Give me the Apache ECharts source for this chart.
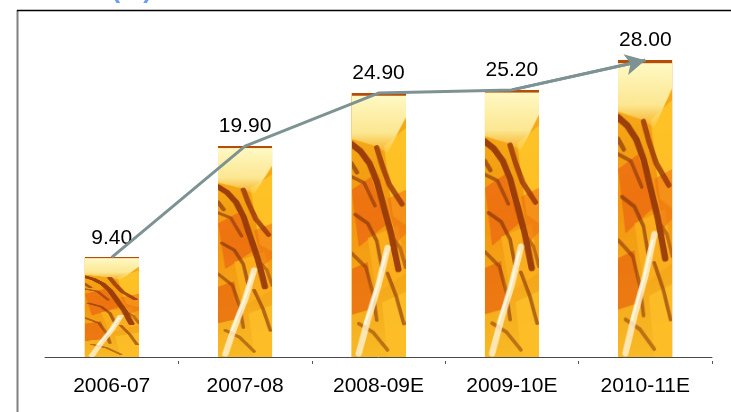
<!DOCTYPE html>
<html>
<head>
<meta charset="utf-8">
<script src="https://cdn.jsdelivr.net/npm/echarts@6/dist/echarts.min.js"></script>
<style>
  html, body { margin: 0; padding: 0; background: #fff; }
  #chart { width: 731px; height: 412px; }
</style>
</head>
<body>
<div id="chart"></div>
<script>
// Fiscal years and values (E = estimate)
const years = ['2006-07', '2007-08', '2008-09E', '2009-10E', '2010-11E'];
const values = [9.40, 19.90, 24.90, 25.20, 28.00];
const headingText = 'ROE (%)';

// Amber crystal texture painted once and stretched over every bar
function makeTexture() {
  const W = 60, H = 300;
  const c = document.createElement('canvas');
  c.width = W; c.height = H;
  const g = c.getContext('2d');
  const base = g.createLinearGradient(0, 0, W, H);
  base.addColorStop(0, '#f7b41c');
  base.addColorStop(0.45, '#f3950e');
  base.addColorStop(1, '#f8bc26');
  g.fillStyle = base;
  g.fillRect(0, 0, W, H);

  function blob(pts, color) {
    g.fillStyle = color;
    g.beginPath();
    g.moveTo(pts[0][0], pts[0][1]);
    for (let i = 1; i < pts.length; i++) g.lineTo(pts[i][0], pts[i][1]);
    g.closePath();
    g.fill();
  }
  function streak(pts, color, w) {
    g.strokeStyle = color;
    g.lineWidth = w;
    g.lineCap = 'round';
    g.lineJoin = 'round';
    g.beginPath();
    g.moveTo(pts[0][0], pts[0][1]);
    for (let i = 1; i < pts.length; i++) g.lineTo(pts[i][0], pts[i][1]);
    g.stroke();
  }
  // warm orange / yellow facets
  blob([[36, 60], [60, 40], [60, 150], [46, 140]], 'rgba(255,196,40,0.9)');
  blob([[0, 110], [22, 95], [38, 150], [8, 175]], 'rgba(236,104,18,0.75)');
  blob([[18, 165], [52, 150], [60, 205], [28, 228]], 'rgba(252,176,30,0.85)');
  blob([[0, 200], [18, 192], [24, 245], [0, 252]], 'rgba(232,100,14,0.7)');
  blob([[34, 238], [60, 226], [60, 300], [40, 300]], 'rgba(252,190,40,0.9)');
  blob([[40, 120], [60, 110], [60, 160], [50, 170]], 'rgba(238,112,16,0.6)');

  // pale top glare
  const glare = g.createLinearGradient(0, 0, 0, 75);
  glare.addColorStop(0, 'rgba(255,250,200,1)');
  glare.addColorStop(0.6, 'rgba(253,238,160,0.9)');
  glare.addColorStop(1, 'rgba(253,222,110,0)');
  g.fillStyle = glare;
  g.beginPath();
  g.moveTo(0, 0); g.lineTo(W, 0); g.lineTo(W, 28); g.lineTo(40, 68); g.lineTo(26, 60); g.lineTo(0, 52); g.closePath();
  g.fill();

  // brown diagonal bands
  streak([[0, 58], [10, 66], [20, 80], [28, 100], [36, 130], [44, 160], [52, 200]], 'rgba(140,45,8,0.85)', 7);
  streak([[28, 62], [34, 82], [42, 104], [56, 126]], 'rgba(150,50,10,0.8)', 6);
  streak([[0, 95], [14, 102], [26, 128]], 'rgba(140,55,12,0.65)', 4);
  streak([[4, 138], [18, 148], [28, 168], [34, 200]], 'rgba(130,50,10,0.65)', 4);
  streak([[0, 182], [16, 198], [24, 228], [28, 258]], 'rgba(140,55,10,0.6)', 4);
  streak([[40, 205], [50, 232], [58, 262]], 'rgba(140,55,10,0.65)', 4);
  streak([[8, 262], [24, 272], [40, 292]], 'rgba(140,55,10,0.55)', 4);
  streak([[44, 162], [54, 176], [60, 198]], 'rgba(160,65,10,0.6)', 4);
  streak([[0, 80], [6, 90]], 'rgba(120,40,8,0.6)', 5);
  // pale crystal streak in the lower left
  streak([[40, 176], [30, 218], [18, 258], [8, 296]], 'rgba(255,238,205,0.85)', 7);
  streak([[38, 182], [28, 222], [15, 262]], 'rgba(255,255,240,0.75)', 2.5);
  // dark rim along the top
  g.fillStyle = 'rgba(176,66,0,0.95)';
  g.fillRect(0, 0, W, 3);
  return c;
}
const texture = makeTexture();

const chart = echarts.init(document.getElementById('chart'), null, { renderer: 'canvas' });

const textFont = '"Liberation Sans", Arial, sans-serif';

chart.setOption({
  animation: false,
  backgroundColor: '#fff',
  grid: { left: 45, right: 19, top: 39, bottom: 55 },
  xAxis: [{
    type: 'category',
    data: years,
    axisLine: { show: true, lineStyle: { color: '#4a4a4a', width: 1 } },
    axisTick: { show: false },
    axisLabel: { color: '#000', fontSize: 21, fontFamily: textFont, margin: 19 }
  }, {
    type: 'category',
    data: years,
    position: 'bottom',
    offset: 4,
    axisLine: { show: false },
    axisTick: { show: true, length: 3, interval: i => i > 0, lineStyle: { color: '#555' } },
    axisLabel: { show: false }
  }],
  yAxis: {
    type: 'value',
    min: 0,
    max: 30,
    show: false,
    splitLine: { show: false }
  },
  series: [{
    type: 'bar',
    data: values,
    barWidth: 54,
    itemStyle: { color: '#f4a214' },
    label: {
      show: true,
      position: 'top',
      distance: 9,
      fontSize: 21,
      fontFamily: textFont,
      color: '#000',
      formatter: p => p.value.toFixed(2)
    },
    z: 2
  }, {
    type: 'custom',
    data: values.map((v, i) => [i, v]),
    renderItem: function (params, api) {
      const top = api.coord([api.value(0), api.value(1)]);
      const base = api.coord([api.value(0), 0]);
      const w = 54;
      return {
        type: 'image',
        style: {
          image: texture,
          x: top[0] - w / 2,
          y: top[1],
          width: w,
          height: base[1] - top[1]
        }
      };
    },
    z: 3
  }, {
    type: 'line',
    data: values,
    symbol: 'none',
    lineStyle: { color: '#7d9292', width: 3 },
    z: 5,
    markLine: {
      silent: true,
      symbol: ['none', 'arrow'],
      symbolSize: [16, 20],
      label: { show: false },
      lineStyle: { color: '#7d9292', width: 3, type: 'solid' },
      data: [[
        { xAxis: years[3], yAxis: values[3] },
        { xAxis: years[4], yAxis: values[4] }
      ]]
    }
  }],
  graphic: [{
    type: 'text',
    left: 48,
    top: -22,
    style: { text: headingText, fill: '#6d9cf2', font: 'bold 26px ' + textFont }
  }, {
    type: 'line',
    shape: { x1: 17.5, y1: 10, x2: 17.5, y2: 412 },
    style: { stroke: '#808080', lineWidth: 2 }
  }, {
    type: 'line',
    shape: { x1: 17, y1: 10.5, x2: 731, y2: 10.5 },
    style: { stroke: '#000', lineWidth: 1.5 }
  }]
});
</script>
</body>
</html>
